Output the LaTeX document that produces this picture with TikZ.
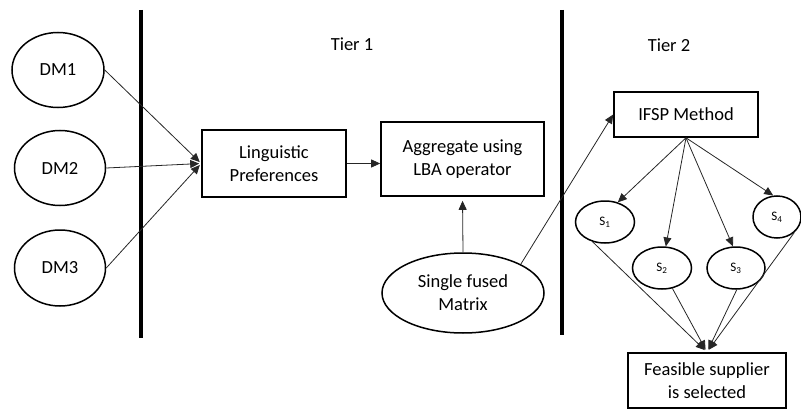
\documentclass[tikz,border=0pt]{standalone}
\usepackage{fontspec}
\setmainfont{Carlito}
\usetikzlibrary{arrows.meta,shapes.geometric,positioning,calc}
\tikzset{
    >={Triangle[length=9pt,width=8pt]},
    block/.style={
        rectangle,
        draw, line width=1.6pt,
        align=center,
        inner sep=0pt
    },
    oval/.style={
        ellipse,
        draw, line width=1.5pt,
        align=center,
        inner sep=0pt
    },
    small/.style={font={\fontsize{13pt}{15pt}\selectfont}},
    line/.style={draw, line width=0.8pt, black!85, ->},
    divider/.style={draw, line width=3.2pt},
    font={\fontsize{18.5pt}{23pt}\selectfont},
}

\begin{document}
\begin{tikzpicture}[x=1pt, y=-1pt]
        \useasboundingbox (0,0) rectangle (801,412);

        % tiers
        \draw [divider] (141,10) -- (141,338);
        \draw [divider] (562,10) -- (562,335);
        \node (tier1) at (352,44) {Tier 1};
        \node (tier2) at (669,45) {Tier 2};

        % decision makers
        \node [oval, minimum width=92, minimum height=75] (dm1) at (58,70) {DM1};
        \node [oval, minimum width=91, minimum height=75] (dm2) at (60,168) {DM2};
        \node [oval, minimum width=91, minimum height=76] (dm3) at (60,268) {DM3};

        \node [block, minimum width=144, minimum height=67] (pref) at (274,163.5) {Linguistic\\Preferences};
        \node [block, minimum width=163, minimum height=74] (agg) at (462.5,159) {Aggregate using\\LBA operator};
        \node [oval, minimum width=162, minimum height=80] (fused) at (463,293) {Single fused\\Matrix};

        \node [block, minimum width=144, minimum height=45] (ifsp) at (686,114.5) {IFSP Method};
        \node [oval, small, minimum width=59, minimum height=42] (s1) at (605,222) {S\textsubscript{1}};
        \node [oval, small, minimum width=59, minimum height=42] (s2) at (662,268) {S\textsubscript{2}};
        \node [oval, small, minimum width=58, minimum height=42] (s3) at (736,268) {S\textsubscript{3}};
        \node [oval, small, minimum width=48, minimum height=42] (s4) at (777,217) {S\textsubscript{4}};
        \node [block, minimum width=158, minimum height=55] (feas) at (707,380.5) {Feasible supplier\\is selected};

        \draw [line, shorten >=2pt] (dm1.east) -- (pref.west);
        \draw [line, shorten >=2pt] (dm2.east) -- (pref.west);
        \draw [line, shorten >=2pt] (dm3.east) -- (pref.west);
        \draw [line] (pref.east) -- (pref.east -| agg.west);
        \draw [line, shorten >=4pt] (fused.north) -- (agg.south);
        \draw [line] (fused.north east) -- (ifsp.west);

        \draw [line] (ifsp.south) -- (s1.57);
        \draw [line] (ifsp.south) -- (s2.80);
        \draw [line] (ifsp.south) -- (s3.98);
        \draw [line] (ifsp.south) -- (s4.100);

        \draw [line, shorten >=3pt] (s1.238) -- (feas.north);
        \draw [line, shorten >=3pt] (s2.297) -- (feas.north);
        \draw [line, shorten >=3pt] (s3.272) -- (feas.north);
        \draw [line, shorten >=3pt] (s4.318) -- (feas.north);
\end{tikzpicture}
\end{document}
